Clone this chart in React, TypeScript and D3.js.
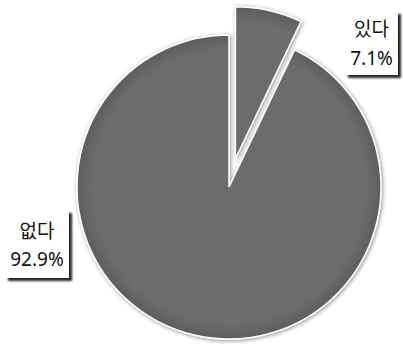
import React from "react";
import * as d3 from "d3";

const categories = ["있다", "없다"];
const values = [7.1, 92.9];
const labels = ["7.1%", "92.9%"];

export default function App() {
  const W = 403, H = 344;
  const cx = 229, cy = 187, r = 152;
  const pie = d3.pie<number>().sort(null).value((d) => d)(values);
  const arc = d3.arc<d3.PieArcDatum<number>>().innerRadius(0).outerRadius(r);
  const explode = [29, 0];
  const boxes = [
    { x: 345, y: 11, w: 53, h: 64 },
    { x: 5, y: 210, w: 64, h: 68 },
  ];
  const base1 = [36, 238];
  const base2 = [65, 266];
  return (
    <svg width={W} height={H} style={{ position: "absolute", left: 0, top: 0 }}>
      <defs>
        <filter id="sh" x="-20%" y="-20%" width="140%" height="140%">
          <feDropShadow dx="1" dy="1" stdDeviation="2" floodColor="#000" floodOpacity="0.45" />
        </filter>
        <filter id="bsh" x="-20%" y="-20%" width="150%" height="150%">
          <feDropShadow dx="3" dy="3" stdDeviation="1" floodColor="#000" floodOpacity="0.85" />
        </filter>
        <radialGradient id="g" gradientUnits="userSpaceOnUse" cx={0} cy={0} r={r}>
          <stop offset="0.9" stopColor="#6c6c6c" />
          <stop offset="1" stopColor="#5e5e5e" />
        </radialGradient>
      </defs>
      <rect width={W} height={H} fill="#fff" />
      <g transform={`translate(${cx},${cy})`}>
        {pie.map((d, i) => {
          const mid = (d.startAngle + d.endAngle) / 2;
          const dx = Math.sin(mid) * explode[i];
          const dy = -Math.cos(mid) * explode[i];
          return (
            <g key={i} transform={`translate(${dx},${dy})`}>
              <path
                d={arc(d) || ""}
                fill="url(#g)"
                stroke="#fff"
                strokeWidth={1.5}
                filter="url(#sh)"
              />
            </g>
          );
        })}
      </g>
      {categories.map((c, i) => {
        const b = boxes[i];
        const tx = b.x + b.w / 2;
        return (
          <g key={c}>
            <rect x={b.x} y={b.y} width={b.w} height={b.h} fill="#fff" filter="url(#bsh)" />
            <text x={tx} y={base1[i]} textAnchor="middle" fontFamily="'Noto Sans CJK KR', sans-serif" fontSize={19} fill="#111">{c}</text>
            <text x={tx} y={base2[i]} textAnchor="middle" fontFamily="'Noto Sans', sans-serif" fontSize={19} fill="#111">{labels[i]}</text>
          </g>
        );
      })}
    </svg>
  );
}
